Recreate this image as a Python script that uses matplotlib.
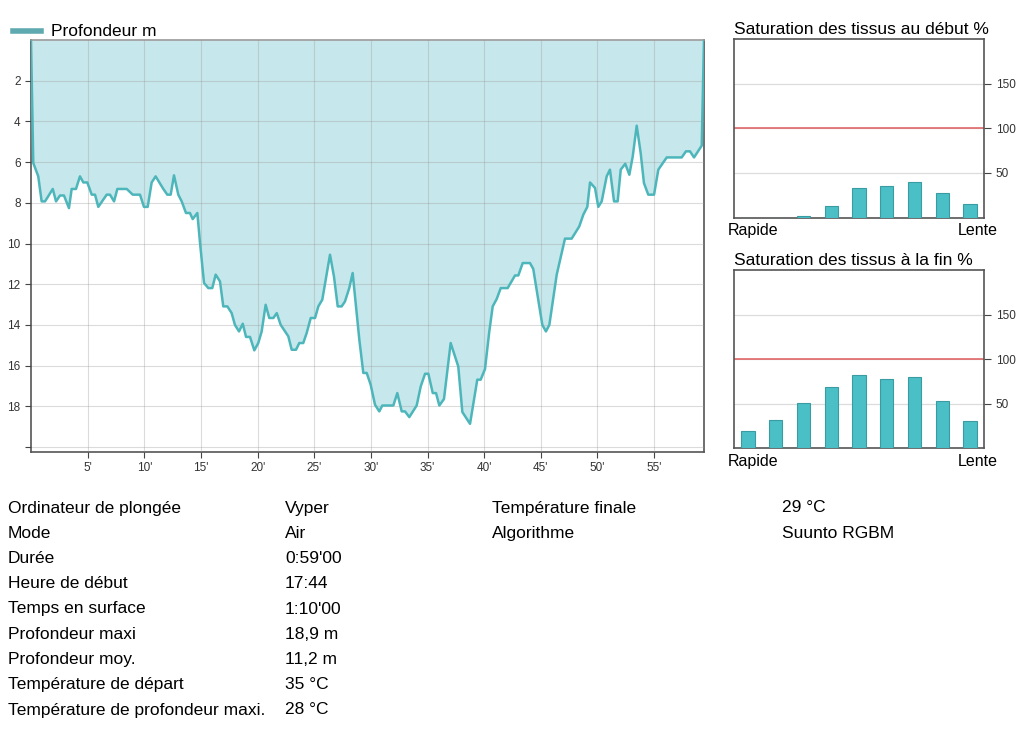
import numpy as np
import matplotlib
matplotlib.use('Agg')
from matplotlib import pyplot as plt

plt.rcParams['font.family'] = ['Liberation Sans', 'DejaVu Sans']

# depth profile (minutes, metres)
t_min = [0.0, 0.2, 0.64, 0.94, 1.24, 1.92, 2.21, 2.56, 2.91, 3.35, 3.59, 3.97, 4.32, 4.62, 4.97,
         5.36, 5.65, 5.94, 6.68, 6.97, 7.33, 7.62, 8.45, 8.98, 9.62, 9.97, 10.3, 10.65, 11.0,
         11.68, 12.03, 12.33, 12.62, 13.0, 13.3, 13.68, 14.03, 14.27, 14.68, 14.92, 15.27,
         15.65, 16.0, 16.3, 16.68, 16.97, 17.33, 17.71, 18.0, 18.36, 18.69, 18.98, 19.33,
         19.71, 20.06, 20.36, 20.71, 21.03, 21.39, 21.69, 22.04, 22.71, 23.01, 23.39, 23.68,
         24.03, 24.33, 24.69, 25.07, 25.36, 25.71, 26.04, 26.39, 26.74, 27.07, 27.42, 27.71,
         28.09, 28.39, 28.98, 29.33, 29.63, 29.98, 30.36, 30.74, 31.01, 31.98, 32.33, 32.72,
         33.01, 33.39, 34.04, 34.4, 34.78, 35.07, 35.46, 35.75, 36.04, 36.45, 37.04, 37.71,
         38.07, 38.75, 39.39, 39.69, 40.07, 40.45, 40.75, 41.1, 41.46, 42.07, 42.72, 43.01,
         43.4, 44.04, 44.33, 44.77, 45.13, 45.45, 45.75, 46.4, 47.13, 47.72, 48.39, 48.75,
         49.1, 49.34, 49.78, 50.07, 50.37, 50.81, 51.1, 51.46, 51.78, 52.05, 52.45, 52.81,
         53.11, 53.46, 53.81, 54.1, 54.48, 54.99, 55.37, 56.11, 57.43, 57.81, 58.16, 58.52,
         59.2, 59.4]
depth = [0.0, 6.04, 6.7, 7.93, 7.93, 7.32, 7.93, 7.64, 7.64, 8.26, 7.32, 7.32, 6.7, 7.0, 7.0,
         7.6, 7.6, 8.2, 7.6, 7.6, 7.93, 7.32, 7.32, 7.6, 7.6, 8.2, 8.2, 7.0, 6.7,
         7.32, 7.6, 7.6, 6.65, 7.6, 7.93, 8.5, 8.5, 8.8, 8.5, 9.98, 11.94,
         12.19, 12.19, 11.53, 11.86, 13.09, 13.09, 13.42, 14.0, 14.32, 13.94, 14.59, 14.59,
         15.25, 14.89, 14.32, 13.01, 13.66, 13.66, 13.42, 14.0, 14.56, 15.22, 15.22, 14.89,
         14.89, 14.4, 13.66, 13.66, 13.09, 12.76, 11.7, 10.55, 11.62, 13.09, 13.09, 12.85,
         12.19, 11.45, 14.73, 16.36, 16.36, 16.94, 17.92, 18.25, 17.96, 17.96, 17.35, 18.25,
         18.25, 18.53, 17.96, 17.02, 16.4, 16.4, 17.35, 17.35, 17.96, 17.64, 14.89, 16.04,
         18.28, 18.86, 16.69, 16.69, 16.17, 14.32, 13.09, 12.73, 12.19, 12.19, 11.57, 11.57,
         10.96, 10.96, 11.25, 12.76, 14.0, 14.32, 14.0, 11.53, 9.76, 9.76, 9.16, 8.58,
         8.2, 7.0, 7.27, 8.2, 7.93, 6.7, 6.37, 7.93, 7.93, 6.37, 6.08, 6.62,
         5.72, 4.21, 5.55, 7.03, 7.6, 7.6, 6.37, 5.77, 5.77, 5.47, 5.47, 5.77,
         5.19, 0.0]

# tissue saturation (%) per compartment, fast -> slow
sat_start = [0, 0, 1.5, 13.4, 33.6, 35.4, 39.6, 27.2, 15.3]
sat_end = [19.3, 32.2, 50.7, 68.5, 82.6, 77.8, 79.6, 53.0, 30.7]

info_left = [('Ordinateur de plongée', 'Vyper'), ('Mode', 'Air'), ('Durée', "0:59'00"),
             ('Heure de début', '17:44'), ('Temps en surface', "1:10'00"),
             ('Profondeur maxi', '18,9 m'), ('Profondeur moy.', '11,2 m'),
             ('Température de départ', '35 °C'), ('Température de profondeur maxi.', '28 °C')]
info_right = [('Température finale', '29 °C'), ('Algorithme', 'Suunto RGBM')]

line_c = '#4db6bb'
fill_c = '#c6e7eb'
bar_c = '#4bbfc6'
W, H = 1024, 732
FS = 12.5

fig = plt.figure(figsize=(10.24, 7.32), dpi=100)

def box(l, t, r, b):
    return [l / W, 1 - b / H, (r - l) / W, (b - t) / H]

def put(xpx, ypx, s, **kw):
    # ypx = visual centre of a text line; place by baseline so rows line up
    fig.text(xpx / W, 1 - (ypx + 4.5) / H, s, va='baseline', **kw)

# ---- depth profile
ax = fig.add_axes(box(31, 40, 704, 451.7))
ax.fill_between(t_min, 0, depth, color=fill_c, lw=0, zorder=1)
ax.plot(t_min, depth, color=line_c, lw=1.8, zorder=3)
ax.set_xlim(0, t_min[-1])
ax.set_ylim(20.23, 0)
ax.set_yticks(np.arange(2, 21, 2))
ax.set_yticklabels([str(v) for v in range(2, 19, 2)] + [''])
ax.set_xticks(np.arange(5, 56, 5))
ax.set_xticklabels(["%d'" % v for v in range(5, 56, 5)])
ax.grid(True, color='#9a9a9a', alpha=0.35, lw=0.8, zorder=2)
ax.tick_params(labelsize=8.5, length=4, color='#444', labelcolor='#333')
for s in ax.spines.values():
    s.set_color('#555')
    s.set_linewidth(1.2)
ax.spines['top'].set_color('#999')
ax.set_axisbelow(False)
fig.add_artist(plt.Line2D([13 / W, 41 / W], [1 - 31 / H, 1 - 31 / H], color='#5fa9b0', lw=4))
put(51, 31, 'Profondeur m', fontsize=FS)

# ---- saturation bars
def sat_panel(top, bottom, vals, title):
    a = fig.add_axes(box(734, top, 984, bottom))
    x = np.arange(len(vals))
    a.bar(x, vals, width=0.48, color=bar_c, edgecolor='#3a9ca2', lw=0.8, zorder=3)
    a.axhline(100, color='#e05a5a', lw=1.1, zorder=2)
    a.set_xlim(-0.5, len(vals) - 0.5)
    a.set_ylim(0, 200)
    a.set_yticks([50, 100, 150])
    a.yaxis.tick_right()
    a.set_xticks([])
    a.grid(axis='y', color='#dcdcdc', lw=0.9, zorder=1)
    a.tick_params(labelsize=8.5, length=5, color='#444', labelcolor='#333')
    for s in a.spines.values():
        s.set_color('#555')
        s.set_linewidth(1.2)
    put(734, top - 9, title, fontsize=FS)
    put(728, bottom + 13, 'Rapide', fontsize=11.5)
    put(998, bottom + 13, 'Lente', fontsize=11.5, ha='right')
    return a

sat_panel(39, 217.5, sat_start, 'Saturation des tissus au début %')
sat_panel(270, 448.3, sat_end, 'Saturation des tissus à la fin %')

# ---- dive info table
y0, dy = 508, 25.25
for i, (k, v) in enumerate(info_left):
    put(8, y0 + i * dy, k, fontsize=FS)
    put(285, y0 + i * dy, v, fontsize=FS)
for i, (k, v) in enumerate(info_right):
    put(492, y0 + i * dy, k, fontsize=FS)
    put(782, y0 + i * dy, v, fontsize=FS)

fig.savefig('out.png', dpi=100)
